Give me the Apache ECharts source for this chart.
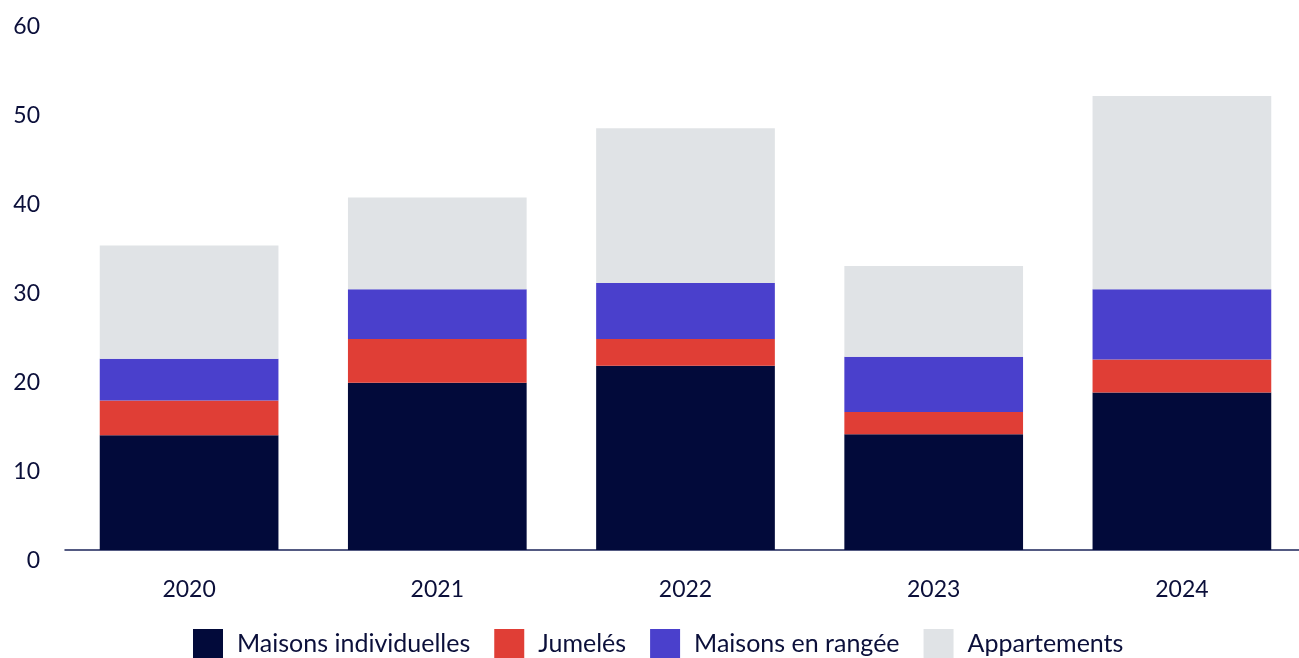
<!DOCTYPE html>
<html>
<head>
<meta charset="utf-8">
<script src="https://cdn.jsdelivr.net/npm/echarts@6/dist/echarts.min.js"></script>
<style>
  html, body { margin: 0; padding: 0; background: #ffffff; overflow: hidden; }
  /* the plot runs a few pixels past the right edge of the page */
  #chart { width: 1306px; height: 658px; }
</style>
</head>
<body>
<div id="chart"></div>
<script>
// Years on the horizontal axis
const years = ['2020', '2021', '2022', '2023', '2024'];

// Stacked values per housing type
const maisonsIndividuelles = [12.9, 18.8, 20.7, 13.0, 17.7];
const jumeles = [3.9, 4.9, 3.0, 2.5, 3.7];
const maisonsEnRangee = [4.7, 5.6, 6.3, 6.2, 7.9];
const appartements = [12.7, 10.3, 17.4, 10.2, 21.7];

// Series names shown in the legend
const seriesNames = ['Maisons individuelles', 'Jumelés', 'Maisons en rangée', 'Appartements'];
const seriesColors = ['#020a3a', '#e03e36', '#4a40cc', '#e0e3e6'];

const textColor = '#0b0f3a';
const fontFamily = 'Lato, "Open Sans", sans-serif';

const chart = echarts.init(document.getElementById('chart'), null, { renderer: 'canvas' });

const seriesData = [maisonsIndividuelles, jumeles, maisonsEnRangee, appartements];

chart.setOption({
  animation: false,
  backgroundColor: '#ffffff',
  grid: { left: 65, right: 0, top: 16, bottom: 108, containLabel: false },
  legend: {
    left: 193,
    top: 629,
    padding: 0,
    icon: 'rect',
    itemWidth: 30,
    itemHeight: 30,
    itemGap: 24,
    data: seriesNames,
    textStyle: {
      color: textColor,
      fontSize: 25,
      fontFamily: fontFamily,
      padding: [0, 0, 0, 9]
    }
  },
  xAxis: {
    type: 'category',
    data: years,
    axisLine: { show: true, lineStyle: { color: '#1d2459', width: 1.5 } },
    axisTick: { show: false },
    axisLabel: {
      color: textColor,
      fontSize: 23,
      fontFamily: fontFamily,
      margin: 28
    }
  },
  yAxis: {
    type: 'value',
    min: 0,
    max: 60,
    interval: 10,
    splitLine: { show: false },
    axisLine: { show: false },
    axisTick: { show: false },
    axisLabel: {
      color: textColor,
      fontSize: 23,
      fontFamily: fontFamily,
      margin: 25,
      verticalAlign: 'top',
      lineHeight: 22
    }
  },
  series: seriesNames.map((name, i) => ({
    name: name,
    type: 'bar',
    stack: 'total',
    barWidth: '72%',
    data: seriesData[i],
    itemStyle: { color: seriesColors[i] },
    emphasis: { disabled: true }
  }))
});
</script>
</body>
</html>
